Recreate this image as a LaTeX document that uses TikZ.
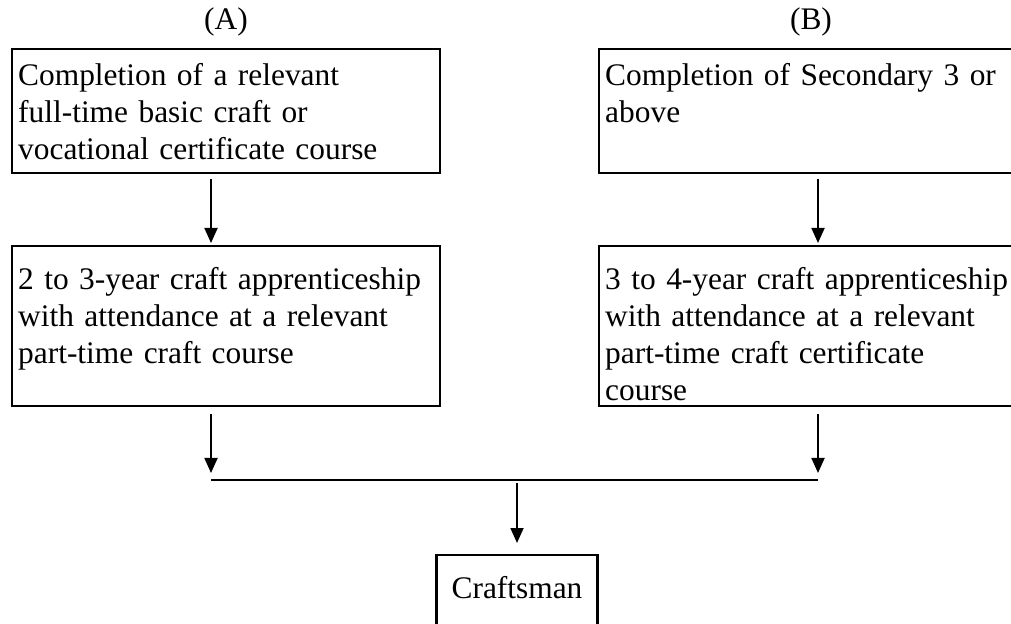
\documentclass[tikz,border=0pt]{standalone}
\usepackage{fontspec}
\setmainfont{Liberation Serif}
\usetikzlibrary{arrows.meta}

\begin{document}
\begin{tikzpicture}[
    x=0.5pt, y=-0.5pt,
    every node/.style={font=\fontsize{15.7}{18.5}\selectfont},
    stagebox/.style={draw, line width=1.2pt, anchor=north west, align=left,
      text width=208pt, inner xsep=3pt, inner ysep=0pt},
    flow/.style={line width=0.9pt, -{Triangle[length=7.5pt,width=6.5pt]}},
  ]
  \useasboundingbox (0,0) rectangle (1011,624);
  \clip (0,0) rectangle (1011,624);

  % Column headings
  \node (headA) at (226,22) {(A)};
  \node (headB) at (811,22) {(B)};

  % Route (A)
  \node[stagebox, text height=18pt, text depth=44pt] (entryA) at (11,48)
    {Completion of a relevant\\full-time basic craft or\\vocational certificate course};
  \node[stagebox, text height=21.5pt, text depth=58.5pt] (trainA) at (11,245)
    {2 to 3-year craft apprenticeship\\with attendance at a relevant\\part-time craft course};

  % Route (B), cut off at the right edge
  \node[stagebox, text height=18pt, text depth=44pt] (entryB) at (598,48)
    {Completion of Secondary 3 or\\above};
  \node[stagebox, text height=21.5pt, text depth=58.5pt] (trainB) at (598,245)
    {3 to 4-year craft apprenticeship\\with attendance at a relevant\\part-time craft certificate\\course};

  % Outcome
  \node[stagebox, anchor=north, align=center, text width=74.5pt, text height=21.5pt, text depth=40pt]
    (craft) at (517,554) {Craftsman};

  % Arrow columns and the joining line
  \coordinate (colA) at (211,0);
  \coordinate (colB) at (818,0);
  \coordinate (bus) at (0,480);

  % Connectors
  \draw[flow, shorten <=2.5pt, shorten >=1pt] (entryA.south -| colA) -- (trainA.north -| colA);
  \draw[flow, shorten <=2.5pt, shorten >=1pt] (entryB.south -| colB) -- (trainB.north -| colB);
  \draw[flow, shorten <=3.5pt, shorten >=3.5pt] (trainA.south -| colA) -- (bus -| colA);
  \draw[flow, shorten <=3.5pt, shorten >=3.5pt] (trainB.south -| colB) -- (bus -| colB);
  \draw[line width=1.3pt] (bus -| colA) -- (bus -| colB);
  \draw[flow, shorten <=1.5pt, shorten >=5.5pt] (craft.north |- bus) -- (craft);
\end{tikzpicture}
\end{document}
